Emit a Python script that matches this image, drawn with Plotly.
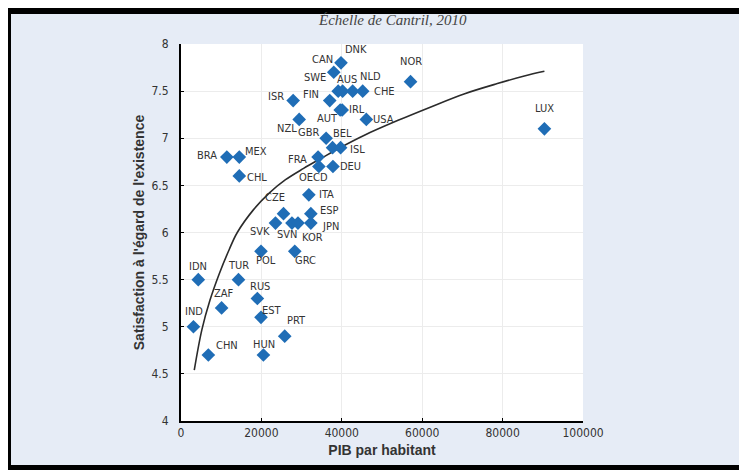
import plotly.graph_objects as go

# ---- data ----
countries = ["DNK", "CAN", "SWE", "AUS", "NLD", "CHE", "NOR", "ISR", "FIN", "IRL",
             "AUT", "NZL", "USA", "LUX", "GBR", "BEL", "ISL", "BRA", "MEX", "FRA",
             "OECD", "DEU", "CHL", "ITA", "CZE", "ESP", "SVK", "SVN", "KOR", "JPN",
             "POL", "GRC", "IDN", "TUR", "RUS", "ZAF", "EST", "IND", "PRT", "CHN", "HUN"]
gdp_per_capita = [39800, 38000, 39100, 40200, 42700, 45200, 57100, 27900, 37000, 40100,
                  39600, 29400, 46100, 90400, 36100, 37700, 39700, 11400, 14500, 34100,
                  34300, 37800, 14500, 31800, 25500, 32300, 23500, 27600, 29100, 32300,
                  19900, 28300, 4300, 14300, 19000, 10100, 19900, 3100, 25800, 6800, 20500]
life_satisfaction = [7.8, 7.7, 7.5, 7.5, 7.5, 7.5, 7.6, 7.4, 7.4, 7.3,
                     7.3, 7.2, 7.2, 7.1, 7.0, 6.9, 6.9, 6.8, 6.8, 6.8,
                     6.7, 6.7, 6.6, 6.4, 6.2, 6.2, 6.1, 6.1, 6.1, 6.1,
                     5.8, 5.8, 5.5, 5.5, 5.3, 5.2, 5.1, 5.0, 4.9, 4.7, 4.7]

# trend curve, points
trend_x = [3300, 5200, 7200, 9500, 12000, 14000, 18000, 22000, 26000, 30500,
           35000, 40000, 45500, 54000, 62000, 70400, 78700, 85400, 90400]
trend_y = [4.54, 4.97, 5.28, 5.56, 5.82, 6.00, 6.24, 6.42, 6.56, 6.68,
           6.79, 6.91, 7.03, 7.19, 7.33, 7.47, 7.58, 7.66, 7.71]

x_ticks = [0, 20000, 40000, 60000, 80000, 100000]
y_ticks = [4, 4.5, 5, 5.5, 6, 6.5, 7, 7.5, 8]

title_text = "Échelle de Cantril, 2010"
x_title = "PIB par habitant"
y_title = "Satisfaction à l'égard de l'existence"

# ---- label offsets in pixels (dx right, dy up) - style only ----
label_offset = {
    "DNK": (15, 13), "CAN": (-11, 13), "SWE": (-23, 14), "AUS": (4, 12),
    "NLD": (18, 15), "CHE": (22, 0), "NOR": (0, 20), "ISR": (-17, 4),
    "FIN": (-19, 6), "IRL": (15, 0), "AUT": (-13, -9), "NZL": (-12, -9),
    "USA": (17, 0), "LUX": (0, 20), "GBR": (-18, 6), "BEL": (10, 14),
    "ISL": (17, -2), "BRA": (-20, 2), "MEX": (17, 6), "FRA": (-21, -2),
    "OECD": (-5, -11), "DEU": (18, 0), "CHL": (18, -2), "ITA": (18, 0),
    "CZE": (-9, 16), "ESP": (19, 3), "SVK": (-15, -8), "SVN": (-5, -11),
    "KOR": (15, -14), "JPN": (20, -3), "POL": (5, -9), "GRC": (11, -9),
    "IDN": (0, 13), "TUR": (0, 14), "RUS": (3, 12), "ZAF": (2, 14),
    "EST": (11, 7), "IND": (1, 15), "PRT": (12, 16), "CHN": (19, 10),
    "HUN": (1, 11),
}

OFF = 8                      # browser body margin
W, H = 747 - OFF, 470 - OFF  # figure size so that it ends at the window edge
PL, PR, PT, PB = 181, 583, 44, 421   # plot area in page pixels
L, T = PL - OFF, PT - OFF
R, B = 747 - PR, 470 - PB
PW, PH = W - L - R, H - T - B

def px(x):
    return (x - OFF - L) / PW

def py(y):
    return (H - B - (y - OFF)) / PH

NARROW = "DejaVu Sans Condensed, Liberation Sans Narrow, Arial Narrow, sans-serif"
BOLD = "Liberation Sans, Arial, sans-serif"

fig = go.Figure()
fig.add_trace(go.Scatter(
    x=trend_x, y=trend_y, mode="lines", line=dict(color="#2b2b2b", width=1.6, shape="spline"),
    hoverinfo="skip", showlegend=False))
fig.add_trace(go.Scatter(
    x=gdp_per_capita, y=life_satisfaction, mode="markers",
    marker=dict(symbol="diamond", size=10.5, color="#1f6db6", line=dict(width=0)),
    text=countries, hoverinfo="text+x+y", showlegend=False, cliponaxis=False))

annotations = []
for c, gx, sy in zip(countries, gdp_per_capita, life_satisfaction):
    dx, dy = label_offset[c]
    annotations.append(dict(
        x=gx, y=sy, xref="x", yref="y", text=c, showarrow=False,
        xanchor="center", yanchor="middle", xshift=dx, yshift=dy,
        font=dict(family=NARROW, size=11, color="#333333")))

annotations.append(dict(text="<i>" + title_text + "</i>", x=px(392), y=py(20), xref="paper", yref="paper",
                        showarrow=False, xanchor="center", yanchor="middle",
                        font=dict(family="Liberation Serif, DejaVu Serif, serif", size=15, color="#444444")))

fig.update_layout(
    width=W, height=H,
    margin=dict(l=L, r=R, t=T, b=B, pad=0),
    paper_bgcolor="#e6ecf6", plot_bgcolor="white",
    showlegend=False,
    xaxis=dict(range=[0, 100000], tickvals=x_ticks, ticktext=[str(v) for v in x_ticks],
               showline=True, linecolor="black", linewidth=2, mirror=False,
               ticks="inside", ticklen=3, tickcolor="black",
               showgrid=True, gridcolor="#ececec", gridwidth=1, zeroline=False,
               tickfont=dict(family=NARROW, size=12, color="#333333"),
               title=dict(text="<b>" + x_title + "</b>", font=dict(family=BOLD, size=14, color="#333333"), standoff=6)),
    yaxis=dict(range=[4, 8], tickvals=y_ticks, ticktext=[f"{v:g}" for v in y_ticks],
               showline=True, linecolor="black", linewidth=2, mirror=False,
               ticks="inside", ticklen=3, tickcolor="black", ticklabelstandoff=8,
               showgrid=True, gridcolor="#ececec", gridwidth=1, zeroline=False,
               tickfont=dict(family=NARROW, size=12, color="#333333"),
               title=dict(text="<b>" + y_title + "</b>", font=dict(family=BOLD, size=14, color="#333333"), standoff=4)),
    annotations=annotations,
    shapes=[
        dict(type="rect", xref="paper", yref="paper", x0=px(OFF), x1=px(747), y0=py(OFF), y1=py(14),
             fillcolor="black", line=dict(width=0), layer="above"),
        dict(type="rect", xref="paper", yref="paper", x0=px(OFF), x1=px(11), y0=py(OFF), y1=py(470),
             fillcolor="black", line=dict(width=0), layer="above"),
        dict(type="rect", xref="paper", yref="paper", x0=px(OFF), x1=px(747), y0=py(465), y1=py(470),
             fillcolor="black", line=dict(width=0), layer="above"),
    ],
)

fig.write_html("out.html", config={"displayModeBar": False})
